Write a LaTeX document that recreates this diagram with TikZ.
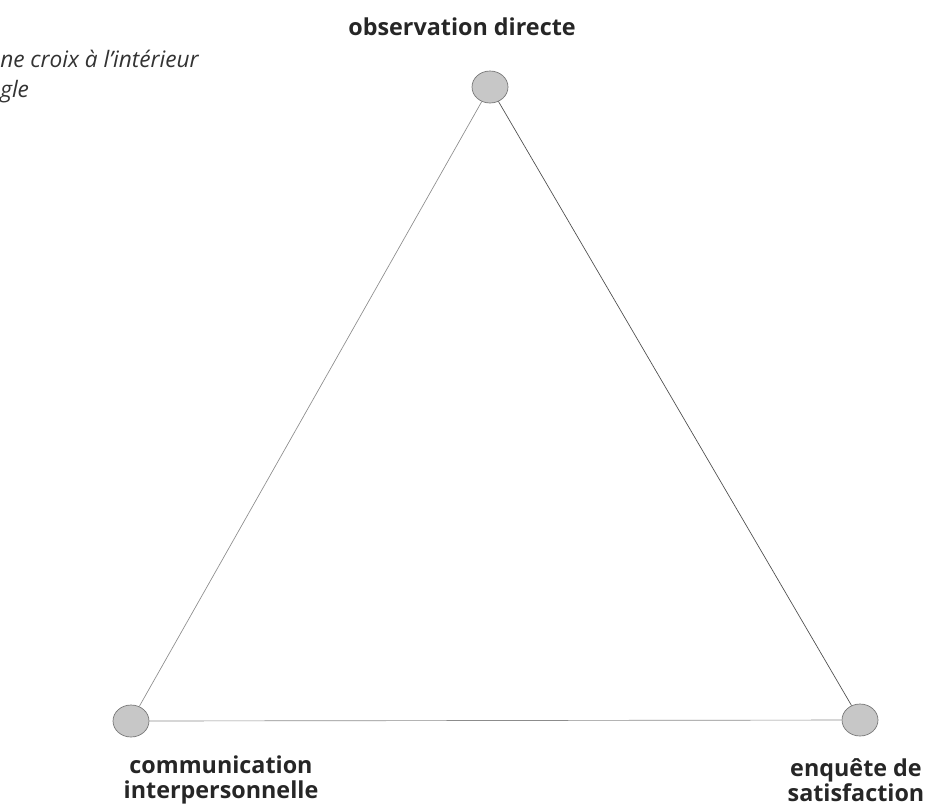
\documentclass[tikz,border=0pt]{standalone}
\usepackage{fontspec}
\setmainfont{Open Sans}
\usetikzlibrary{shapes.geometric}
\begin{document}
\begin{tikzpicture}[x=0.75pt,y=-0.75pt,
    pole/.style={draw=black!55,fill=black!22,ellipse,minimum width=27pt,minimum height=24pt,inner sep=0pt,line width=0.5pt},
    side/.style={black!45,line width=0.5pt},
    lbl/.style={font=\fontsize{17.5}{19}\selectfont\bfseries,text=black!85,align=center,inner sep=0pt}]
    \useasboundingbox (0,0) rectangle (938,808);
    \node[pole] (obs) at (490,87) {};
    \node[pole] (com) at (131,721) {};
    \node[pole] (enq) at (860,720) {};
    \draw[side] (obs) -- (com);
    \draw[side,black!70] (obs) -- (enq);
    \draw[side] (com) -- (enq);
    \node[lbl] (tobs) at (462,27) {observation directe};
    \node[lbl] (tcom) at (221,780) {communication\\interpersonnelle};
    \node[lbl] (tenq) at (856,780) {enquête de\\satisfaction};
    \node[anchor=west,inner sep=0pt,align=left,text=black!80,
        font=\fontsize{17}{22.5}\selectfont\itshape] (consigne) at (0,77) {ne croix à l'intérieur\\gle};
\end{tikzpicture}
\end{document}
